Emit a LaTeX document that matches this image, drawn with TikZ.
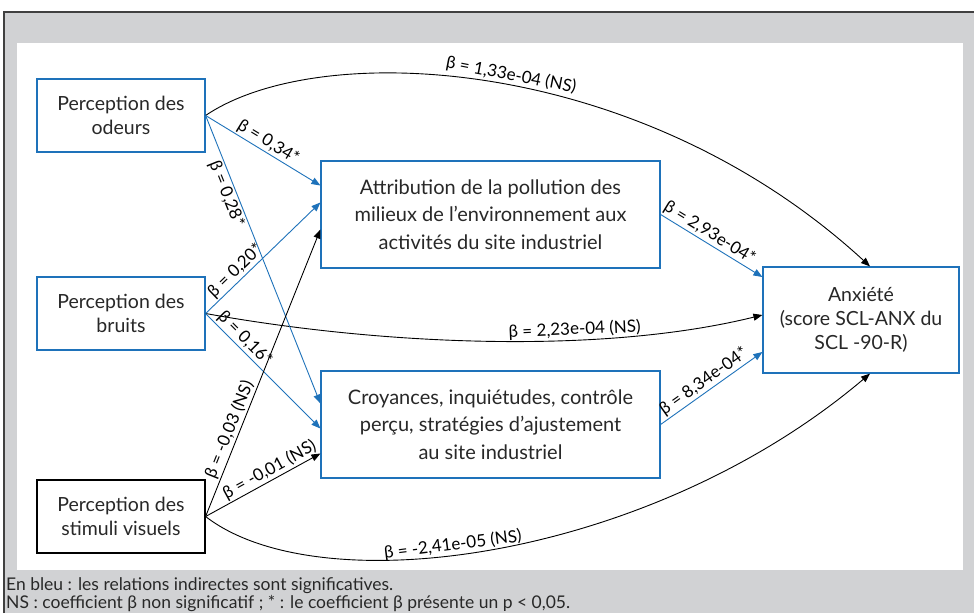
\documentclass[tikz,border=0pt]{standalone}
\usepackage{fontspec}
\setmainfont{Lato}
\usetikzlibrary{%
  arrows.meta,
  calc
}
\definecolor{pathblue}{RGB}{30,114,186}
\definecolor{framegray}{RGB}{209,210,212}
\definecolor{textgray}{RGB}{40,40,40}

\tikzset{
  varbox/.style={draw=pathblue, line width=1.2pt, fill=white, align=center,
    minimum width=168pt, minimum height=73pt, inner sep=2pt, text=textgray,
    font=\fontsize{19.5}{24}\selectfont},
  midbox/.style={varbox, minimum width=339pt, minimum height=107pt,
    font=\fontsize{20}{27.5}\selectfont},
  link/.style={line width=0.9pt, -{Triangle[length=9pt,width=7pt]}},
  bluelink/.style={link, draw=pathblue, -{Triangle[length=9pt,width=7pt,fill=pathblue]}},
  lbl/.style={font=\fontsize{17}{18}\selectfont, text=black, inner sep=1.5pt, sloped},
  note/.style={anchor=base west, inner sep=0pt, text=textgray,
    font=\fontsize{17.5}{20}\selectfont}
}

\begin{document}
\begin{tikzpicture}[x=1pt, y=-1pt]
    \useasboundingbox (0,0) rectangle (974,613);

    %Frame
    \fill[framegray] (4,12) rectangle (974,613);
    \draw[line width=1.5pt, black!75] (4,613) -- (4,12) -- (974,12);
    \fill[white] (17,43) rectangle (963,570);

    %Variables
    \node[varbox] (odeurs) at (121,115.5) {Perception des\\odeurs};
    \node[varbox] (bruits) at (121,313.5) {Perception des\\bruits};
    \node[varbox, draw=black] (visuels) at (121,516.5) {Perception des\\stimuli visuels};
    \node[midbox] (attr) at (490.5,214.5) {Attribution de la pollution des\\milieux de l’environnement aux\\activités du site industriel};
    \node[midbox] (croy) at (490.5,424.5) {Croyances, inquiétudes, contrôle\\perçu, stratégies d’ajustement\\au site industriel};
    \node[varbox, minimum width=196pt, minimum height=106pt] (anx) at (861,320) {Anxiété\\(score SCL-ANX du\\SCL -90-R)};

    %Direct effects
    \draw[link] (odeurs.east) .. controls (320,38) and (640,55) .. node[lbl, above, pos=0.52] (lodanx) {β = 1,33e-04 (NS)} ($(anx.north)+(9,0)$);
    \draw[link] (bruits.east) .. controls (380,345) and (600,355) .. node[lbl, above, pos=0.65] (lbranx) {β = 2,23e-04 (NS)} ($(anx.west)+(0,-5)$);
    \draw[link] (visuels.east) .. controls (320,605) and (650,560) .. node[lbl, above, pos=0.44] (lviAnx) {β = -2,41e-05 (NS)} ($(anx.south)+(9,0)$);

    %Paths to the mediators
    \draw[bluelink] (odeurs.east) -- node[lbl, above, pos=0.5] (lodatt) {β = 0,34*} ($(attr.west)+(0,-29)$);
    \draw[bluelink] (odeurs.east) -- node[lbl, below, pos=0.26] (lodcro) {β = 0,28*} ($(croy.west)+(0,-21)$);
    \draw[bluelink] (bruits.east) -- node[lbl, above, pos=0.32] (lbratt) {β = 0,20*} ($(attr.west)+(0,-12)$);
    \draw[bluelink] (bruits.east) -- node[lbl, above, pos=0.28] (lbrcro) {β = 0,16*} ($(croy.west)+(0,4)$);
    \draw[link] (visuels.east) -- node[lbl, above, pos=0.29] (lviatt) {β = -0,03 (NS)} ($(attr.west)+(0,15)$);
    \draw[link] (visuels.east) -- node[lbl, above, pos=0.6] (lvicro) {β = -0,01 (NS)} ($(croy.west)+(0,29)$);

    %Mediators to anxiety
    \draw[bluelink] (attr.east) -- node[lbl, above, pos=0.43] (lattanx) {β = 2,93e-04*} ($(anx.west)+(0,-43)$);
    \draw[bluelink] (croy.east) -- node[lbl, above, pos=0.48] (lcroanx) {β = 8,34e-04*} ($(anx.west)+(0,32)$);

    %Notes
    \node[note] (note1) at (6,590) {En bleu : les relations indirectes sont significatives.};
    \node[note] (note2) at (6,608) {NS : coefficient β non significatif ; * : le coefficient β présente un p < 0,05.};
\end{tikzpicture}
\end{document}
